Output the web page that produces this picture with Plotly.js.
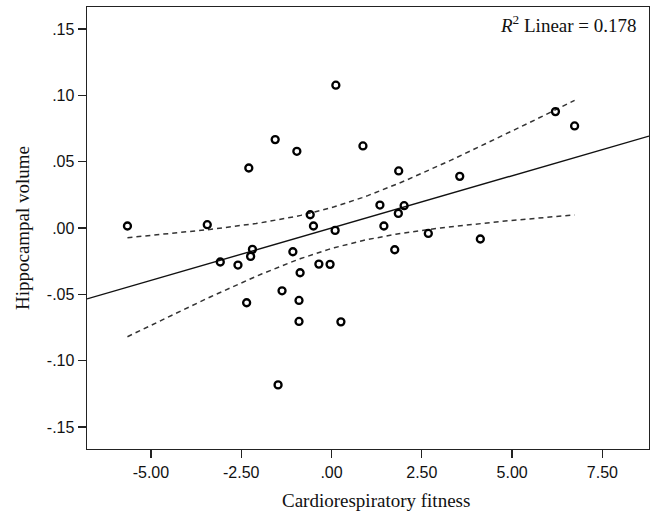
<!DOCTYPE html>
<html>
<head>
<meta charset="utf-8">
<script src="https://cdn.plot.ly/plotly-3.0.1.min.js"></script>
<style>html,body{margin:0;padding:0;background:#fff;}#chart{width:653px;height:514px;}</style>
</head>
<body>
<div id="chart"></div>
<script>
// Data
const fitness = [-5.65, -3.44, -3.08, -2.59, -2.19, -2.24, -2.35, -2.29, -1.56, -0.96,
                 -0.59, -0.50, -1.07, -0.87, -1.37, -0.90, -0.90, 0.26, -0.35, -0.04,
                 0.10, 1.34, 2.01, 1.85, 1.45, 1.75, 2.68, 0.12, 0.87, 1.86,
                 3.55, 4.12, 6.20, 6.73, -1.48];
const hippocampalVolume = [0.0015, 0.0025, -0.0256, -0.0279, -0.0161, -0.0214, -0.0563, 0.0452, 0.0666, 0.0578,
                 0.0100, 0.0015, -0.0179, -0.0337, -0.0473, -0.0546, -0.0704, -0.0707, -0.0272, -0.0274,
                 -0.0018, 0.0173, 0.0168, 0.0110, 0.0015, -0.0164, -0.0041, 0.1076, 0.0618, 0.0430,
                 0.0389, -0.0083, 0.0877, 0.0769, -0.1182];
const xTickVals = [-5, -2.5, 0, 2.5, 5, 7.5];
const xTickText = ["-5.00", "-2.50", ".00", "2.50", "5.00", "7.50"];
const yTickVals = [-0.15, -0.10, -0.05, 0, 0.05, 0.10, 0.15];
const yTickText = ["-.15", "-.10", "-.05", ".00", ".05", ".10", ".15"];
const xRange = [-6.77, 8.79];
const yRange = [-0.1665, 0.1665];
const T95_DF33 = 2.0345; // t quantile 0.975 for n-2 = 33 degrees of freedom

// Least-squares fit and 95% mean confidence band
const n = fitness.length;
const mx = fitness.reduce((a, b) => a + b, 0) / n;
const my = hippocampalVolume.reduce((a, b) => a + b, 0) / n;
let sxx = 0, syy = 0, sxy = 0;
for (let i = 0; i < n; i++) {
  const dx = fitness[i] - mx, dy = hippocampalVolume[i] - my;
  sxx += dx * dx; syy += dy * dy; sxy += dx * dy;
}
const slope = sxy / sxx;
const intercept = my - slope * mx;
const r2 = (sxy * sxy) / (sxx * syy);
const s = Math.sqrt((syy - slope * sxy) / (n - 2));

const fitX = xRange.slice();
const fitY = fitX.map(x => intercept + slope * x);

const xmin = Math.min(...fitness), xmax = Math.max(...fitness);
const bandX = [], upperY = [], lowerY = [];
for (let k = 0; k <= 80; k++) {
  const x = xmin + (xmax - xmin) * k / 80;
  const se = s * Math.sqrt(1 / n + (x - mx) * (x - mx) / sxx);
  const yh = intercept + slope * x;
  bandX.push(x); upperY.push(yh + T95_DF33 * se); lowerY.push(yh - T95_DF33 * se);
}

const traces = [
  {x: bandX, y: upperY, mode: 'lines', line: {color: '#333', width: 1.5, dash: '5px,4px'}, hoverinfo: 'skip'},
  {x: bandX, y: lowerY, mode: 'lines', line: {color: '#333', width: 1.5, dash: '5px,4px'}, hoverinfo: 'skip'},
  {x: fitX, y: fitY, mode: 'lines', line: {color: '#111', width: 1.4}, hoverinfo: 'skip'},
  {x: fitness, y: hippocampalVolume, mode: 'markers', type: 'scatter',
   marker: {symbol: 'circle-open', size: 7, color: '#000', line: {width: 2.3, color: '#000'}}}
];

const tickFont = {family: 'Liberation Sans, Arial, sans-serif', size: 16, color: '#111'};
const titleFont = {family: 'Liberation Serif, Times New Roman, serif', size: 19, color: '#111'};
const axisCommon = {
  showgrid: false, zeroline: false, showline: true, mirror: true,
  linecolor: '#222', linewidth: 1.4, ticks: 'outside', ticklen: 8,
  tickwidth: 1.3, tickcolor: '#222', tickfont: tickFont
};

const layout = {
  width: 653, height: 514,
  margin: {l: 87, r: 4, t: 7, b: 65},
  paper_bgcolor: '#fff', plot_bgcolor: '#fff',
  showlegend: false,
  xaxis: Object.assign({}, axisCommon, {
    range: xRange, tickmode: 'array', tickvals: xTickVals, ticktext: xTickText
  }),
  yaxis: Object.assign({}, axisCommon, {
    range: yRange, tickmode: 'array', tickvals: yTickVals, ticktext: yTickText,
    title: {text: 'Hippocampal volume', font: titleFont, standoff: 12}
  }),
  annotations: [
    {xref: 'paper', yref: 'paper', x: 1, y: 1, xanchor: 'right', yanchor: 'top',
     xshift: -10, yshift: -3, showarrow: false, font: titleFont,
     text: '<i>R</i><sup>2</sup> Linear = ' + r2.toFixed(3)},
    {xref: 'paper', yref: 'paper', x: 0.514, y: -0.1155, xanchor: 'center', yanchor: 'middle',
     showarrow: false, font: titleFont, text: 'Cardiorespiratory fitness'}
  ]
};

Plotly.newPlot('chart', traces, layout, {staticPlot: true, displayModeBar: false});
</script>
</body>
</html>
